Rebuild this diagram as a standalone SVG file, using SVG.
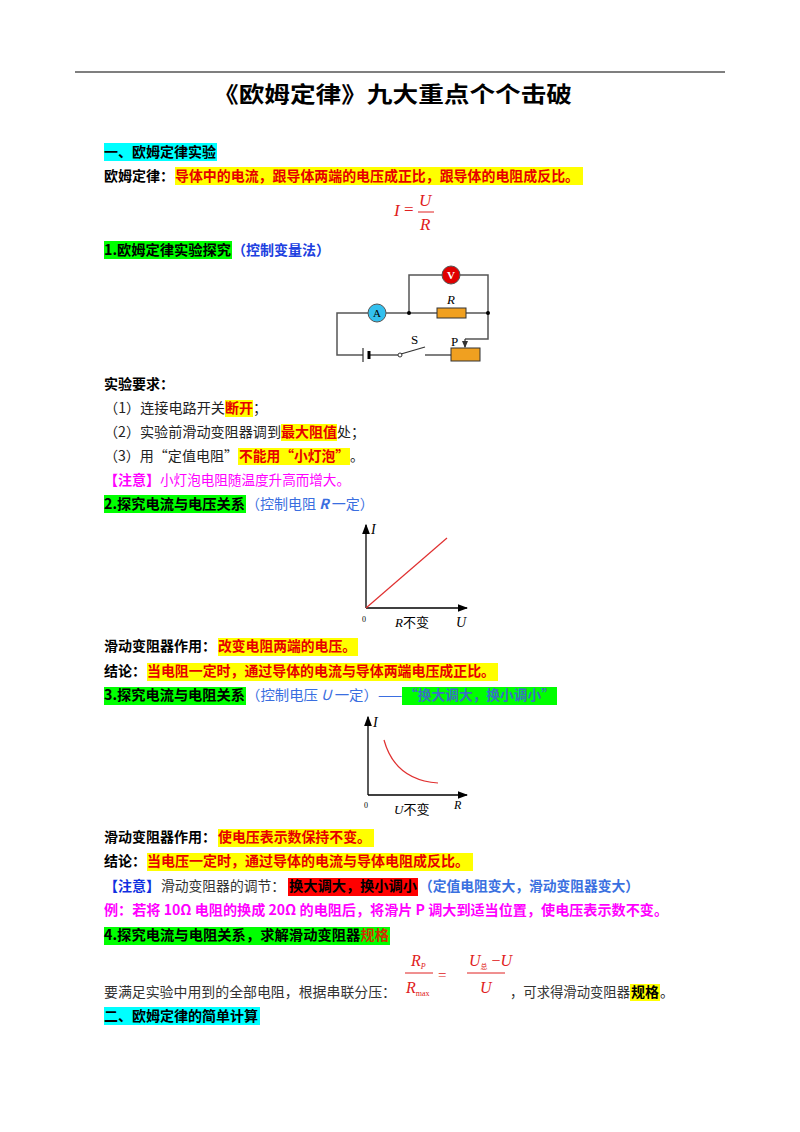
<svg xmlns="http://www.w3.org/2000/svg" width="800" height="1132" viewBox="0 0 800 1132">
<style>
text{font-family:"Noto Sans CJK SC","Liberation Sans",sans-serif;font-size:14px;fill:#222}
.b{font-weight:bold;fill:#000}
.r{fill:#e60000;font-weight:bold}
.bl{fill:#3a6ee0}
.m{fill:#ff00ff}
.math{font-family:"Liberation Serif","Noto Sans CJK SC",serif;font-style:italic;fill:#e02020;font-size:17px}
.ax{stroke:#000;stroke-width:1.3;fill:none}
.w{stroke:#555;stroke-width:1.5;fill:none}
.y{fill:#ffff00}.g{fill:#00ff00}.c{fill:#00ffff}
.s{font-family:"Liberation Serif","Noto Sans CJK SC",serif;fill:#000}
</style>
<defs>
<marker id="ar" markerWidth="8" markerHeight="8" refX="7" refY="4" orient="auto"><path d="M0,1 L8,4 L0,7 Z" fill="#000"/></marker>
<marker id="sa" markerWidth="6" markerHeight="6" refX="5" refY="3" orient="auto"><path d="M0,0.5 L6,3 L0,5.5 Z" fill="#333"/></marker>
</defs>
<rect width="800" height="1132" fill="#fff"/>
<line x1="75" y1="72" x2="725" y2="72" stroke="#000" stroke-width="1.2"/>
<text x="213" y="102" class="b" style="font-size:22px" textLength="359" lengthAdjust="spacingAndGlyphs">《欧姆定律》九大重点个个击破</text>

<rect class="c" x="104" y="143" width="113" height="18"/>
<text x="104" y="157" class="b" textLength="112" lengthAdjust="spacingAndGlyphs">一、欧姆定律实验</text>
<text x="104" y="181" class="b" textLength="70" lengthAdjust="spacingAndGlyphs">欧姆定律：</text>
<rect class="y" x="175" y="167" width="408" height="18"/>
<text x="175" y="181" class="r" textLength="404" lengthAdjust="spacingAndGlyphs">导体中的电流，跟导体两端的电压成正比，跟导体的电阻成反比。</text>
<g id="formula1"><text x="394" y="216" class="math">I</text><text x="404" y="215" class="math" style="font-style:normal">=</text>
<text x="419" y="206" class="math">U</text><line x1="418" y1="212" x2="434" y2="212" stroke="#e02020"/><text x="420" y="230" class="math">R</text></g>

<rect class="g" x="104" y="241" width="128" height="18"/>
<text x="104" y="255" class="b" textLength="127" lengthAdjust="spacingAndGlyphs">1.欧姆定律实验探究</text>
<text x="232" y="255" class="b" style="fill:#2040e0" textLength="98" lengthAdjust="spacingAndGlyphs">（控制变量法）</text>

<g id="circuit">
<path class="w" d="M409,313 V275 H442 M460,275 H488 V339 H465 M488,313 H466 M437,313 H386 M368,313 H337 V355 H363 M369,355 H398 M425,355 H451"/>
<line x1="465" y1="339" x2="465" y2="347" stroke="#333" stroke-width="1.2" marker-end="url(#sa)"/>
<circle cx="451" cy="275" r="9" fill="#e00000" stroke="#555"/><text x="451" y="279" text-anchor="middle" class="s" style="font-size:11px;fill:#fff;font-weight:bold">V</text>
<circle cx="377" cy="313" r="9" fill="#33c0ee" stroke="#555"/><text x="377" y="317" text-anchor="middle" class="s" style="font-size:11px">A</text>
<rect x="437" y="308" width="29" height="10" fill="#f0a020" stroke="#333"/>
<text x="447" y="304" class="s" style="font-style:italic;font-size:13px">R</text>
<circle cx="409" cy="313" r="2" fill="#000"/><circle cx="488" cy="313" r="2" fill="#000"/>
<line x1="363" y1="348" x2="363" y2="362" stroke="#333" stroke-width="1.2"/><line x1="369" y1="351" x2="369" y2="359" stroke="#000" stroke-width="3"/>
<circle cx="400" cy="355" r="2" fill="#fff" stroke="#333"/><line x1="401" y1="354" x2="425" y2="347" stroke="#333" stroke-width="1.3"/>
<text x="411" y="344" class="s" style="font-size:13px">S</text>
<text x="451" y="346" class="s" style="font-size:13px">P</text>
<rect x="451" y="348" width="29" height="13" fill="#f0a020" stroke="#333"/>
</g>

<text x="104" y="389" class="b" textLength="70" lengthAdjust="spacingAndGlyphs">实验要求：</text>
<text x="104" y="413" textLength="121" lengthAdjust="spacingAndGlyphs">（1）连接电路开关</text><rect class="y" x="225" y="400" width="28" height="17"/><text x="225" y="413" class="r">断开</text><text x="253" y="413">；</text>
<text x="104" y="437" textLength="177" lengthAdjust="spacingAndGlyphs">（2）实验前滑动变阻器调到</text><rect class="y" x="281" y="424" width="56" height="17"/><text x="281" y="437" class="r">最大阻值</text><text x="337" y="437">处；</text>
<text x="104" y="461" textLength="134" lengthAdjust="spacingAndGlyphs">（3）用“定值电阻”</text><rect class="y" x="238" y="448" width="112" height="17"/><text x="239" y="461" class="r" textLength="110" lengthAdjust="spacingAndGlyphs">不能用“小灯泡”</text><text x="350" y="461">。</text>
<text x="104" y="485" class="b" style="fill:#ff00ff">【注意】</text><text x="160" y="485" class="m" textLength="190" lengthAdjust="spacingAndGlyphs">小灯泡电阻随温度升高而增大。</text>
<rect class="g" x="104" y="495" width="142" height="18"/>
<text x="104" y="509" class="b" textLength="141" lengthAdjust="spacingAndGlyphs">2.探究电流与电压关系</text>
<text x="246" y="509" class="bl">（控制电阻 <tspan style="font-style:italic;font-weight:bold">R</tspan> 一定）</text>

<g id="graph1">
<line class="ax" x1="366" y1="608" x2="366" y2="525" marker-end="url(#ar)"/>
<line class="ax" x1="366" y1="608" x2="467" y2="608" marker-end="url(#ar)"/>
<line x1="366" y1="608" x2="447" y2="538" stroke="#e03030" stroke-width="1.2"/>
<text x="371" y="534" class="s" style="font-style:italic">I</text>
<text x="362" y="622" class="s" style="font-size:8px">0</text>
<text x="395" y="627" class="s" style="font-size:13px"><tspan font-style="italic">R</tspan>不变</text>
<text x="456" y="627" class="s" style="font-style:italic">U</text>
</g>

<text x="104" y="651" class="b" textLength="112" lengthAdjust="spacingAndGlyphs">滑动变阻器作用：</text><rect class="y" x="218" y="638" width="140" height="18"/><text x="218" y="651" class="r" textLength="138" lengthAdjust="spacingAndGlyphs">改变电阻两端的电压。</text>
<text x="104" y="676" class="b">结论：</text><rect class="y" x="147" y="663" width="351" height="18"/><text x="147" y="676" class="r" textLength="348" lengthAdjust="spacingAndGlyphs">当电阻一定时，通过导体的电流与导体两端电压成正比。</text>
<rect class="g" x="104" y="687" width="142" height="18"/>
<text x="104" y="700" class="b" textLength="141" lengthAdjust="spacingAndGlyphs">3.探究电流与电阻关系</text>
<text x="246" y="700" class="bl" textLength="156" lengthAdjust="spacingAndGlyphs">（控制电压 <tspan style="font-style:italic">U</tspan> 一定）——</text>
<rect class="g" x="402" y="687" width="155" height="18"/>
<text x="404" y="700" class="b" style="fill:#3a70c0" textLength="151" lengthAdjust="spacingAndGlyphs">“换大调大，换小调小”</text>

<g id="graph2">
<line class="ax" x1="368" y1="795" x2="368" y2="717" marker-end="url(#ar)"/>
<line class="ax" x1="368" y1="795" x2="467" y2="795" marker-end="url(#ar)"/>
<path d="M384,740 Q395,780 438,783" stroke="#e03030" stroke-width="1.2" fill="none"/>
<text x="373" y="727" class="s" style="font-style:italic">I</text>
<text x="364" y="808" class="s" style="font-size:8px">0</text>
<text x="394" y="814" class="s" style="font-size:13px"><tspan font-style="italic">U</tspan>不变</text>
<text x="454" y="809" class="s" style="font-style:italic;font-size:12px">R</text>
</g>

<text x="104" y="842" class="b" textLength="112" lengthAdjust="spacingAndGlyphs">滑动变阻器作用：</text><rect class="y" x="218" y="829" width="156" height="18"/><text x="218" y="842" class="r" textLength="153" lengthAdjust="spacingAndGlyphs">使电压表示数保持不变。</text>
<text x="104" y="866" class="b">结论：</text><rect class="y" x="147" y="853" width="326" height="18"/><text x="147" y="866" class="r" textLength="322" lengthAdjust="spacingAndGlyphs">当电压一定时，通过导体的电流与导体电阻成反比。</text>
<text x="104" y="891" class="b" style="fill:#1030e0" textLength="56" lengthAdjust="spacingAndGlyphs">【注意】</text><text x="161" y="891" style="fill:#333" textLength="124" lengthAdjust="spacingAndGlyphs">滑动变阻器的调节：</text>
<rect x="288" y="878" width="130" height="18" fill="#ff0000"/><text x="289" y="891" class="b" textLength="128" lengthAdjust="spacingAndGlyphs">换大调大，换小调小</text>
<text x="419" y="891" class="b" style="fill:#3a70e0" textLength="220" lengthAdjust="spacingAndGlyphs">（定值电阻变大，滑动变阻器变大）</text>
<text x="104" y="915" class="b" style="fill:#ff00ff" textLength="564" lengthAdjust="spacingAndGlyphs">例：若将 10Ω 电阻的换成 20Ω 的电阻后，将滑片 P 调大到适当位置，使电压表示数不变。</text>
<rect class="g" x="104" y="927" width="286" height="18"/>
<text x="104" y="940" class="b" textLength="285" lengthAdjust="spacingAndGlyphs">4.探究电流与电阻关系，求解滑动变阻器<tspan style="fill:#d03000">规格</tspan></text>

<g id="formula2">
<text x="411" y="966" class="math" style="font-size:16px">R<tspan style="font-size:8px" dy="3">P</tspan></text>
<line x1="405" y1="973" x2="433" y2="973" stroke="#e02020"/>
<text x="406" y="993" class="math" style="font-size:16px">R<tspan style="font-size:8px;font-style:normal" dy="3">max</tspan></text>
<text x="438" y="980" class="math" style="font-size:15px;font-style:normal">=</text>
<text x="469" y="966" class="math" style="font-size:16px">U<tspan style="font-size:7px;font-style:normal" dy="3">总</tspan><tspan dy="-3" style="font-style:normal"> −</tspan>U</text>
<line x1="467" y1="973" x2="505" y2="973" stroke="#e02020"/>
<text x="480" y="993" class="math" style="font-size:16px">U</text>
</g>
<text x="104" y="997" style="fill:#333" textLength="292" lengthAdjust="spacingAndGlyphs">要满足实验中用到的全部电阻，根据串联分压：</text>
<text x="510" y="997" style="fill:#333" textLength="120" lengthAdjust="spacingAndGlyphs">，可求得滑动变阻器</text>
<rect class="y" x="630" y="984" width="30" height="17"/><text x="631" y="997" class="b" textLength="28" lengthAdjust="spacingAndGlyphs">规格</text><text x="660" y="997">。</text>
<rect class="c" x="104" y="1007" width="156" height="18"/>
<text x="104" y="1021" class="b" textLength="154" lengthAdjust="spacingAndGlyphs">二、欧姆定律的简单计算</text>
</svg>
